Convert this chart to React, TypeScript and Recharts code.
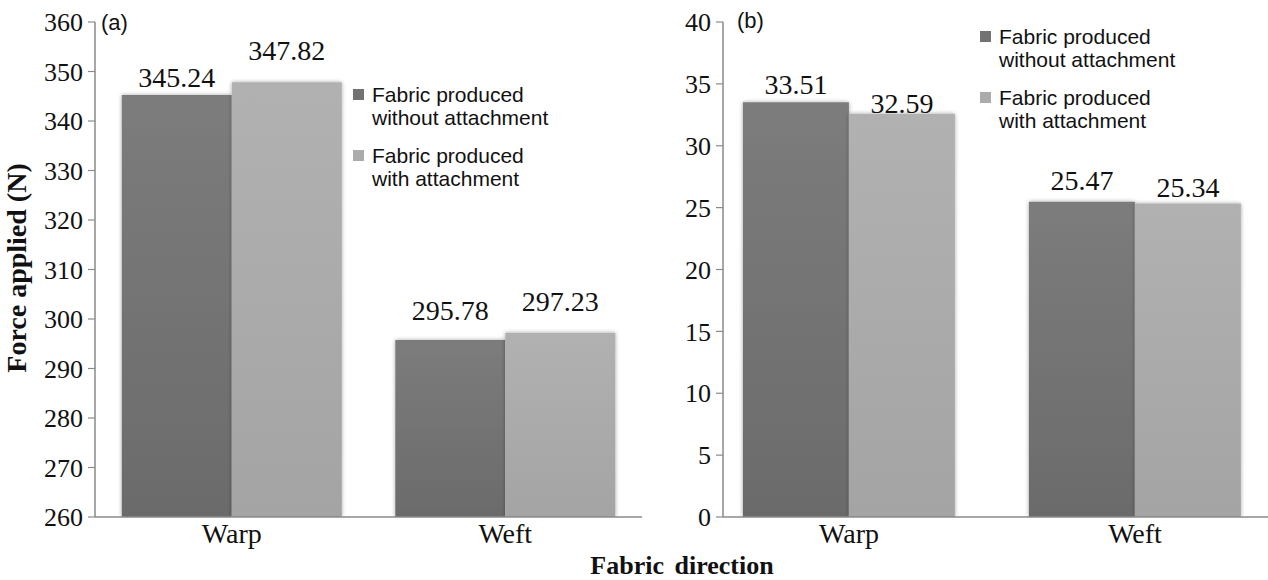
import React from 'react';
import { BarChart, Bar, XAxis, YAxis, Legend, LabelList } from 'recharts';

// ---------- data ----------
const categories = ['Warp', 'Weft'];
const seriesNames = ['Fabric produced without attachment', 'Fabric produced with attachment'];
const legendLines = [
  ['Fabric produced', 'without attachment'],
  ['Fabric produced', 'with attachment'],
];
const forceWithout = [345.24, 295.78];
const forceWith = [347.82, 297.23];
const rightWithout = [33.51, 25.47];
const rightWith = [32.59, 25.34];
const forceTicks = [260, 270, 280, 290, 300, 310, 320, 330, 340, 350, 360];
const rightTicks = [0, 5, 10, 15, 20, 25, 30, 35, 40];
const panelTags = ['(a)', '(b)'];
const yTitle = 'Force applied (N)';
const xTitle = 'Fabric direction';

// ---------- styling ----------
const SERIF = "'Liberation Serif', 'Times New Roman', serif";
const SANS = "'Liberation Sans', Arial, sans-serif";
const AXIS = '#8a8a8a';
const legendColors = ['#727272', '#ababab'];
const LABEL_FS = 28;
// vertical nudge (px) of each value label above its bar top, per series / category
const leftLift = [[18, 29], [32, 31]];
const rightLift = [[18, 21], [10, 16]];

const leftData = categories.map((c, i) => ({ cat: c, without: forceWithout[i], with: forceWith[i] }));
const rightData = categories.map((c, i) => ({ cat: c, without: rightWithout[i], with: rightWith[i] }));

const Defs = () => (
  <defs>
    <linearGradient id="gDark" x1="0" y1="0" x2="0" y2="1">
      <stop offset="0%" stopColor="#7c7c7c" />
      <stop offset="100%" stopColor="#6b6b6b" />
    </linearGradient>
    <linearGradient id="gLight" x1="0" y1="0" x2="0" y2="1">
      <stop offset="0%" stopColor="#b1b1b1" />
      <stop offset="100%" stopColor="#a4a4a4" />
    </linearGradient>
    <filter id="soft" x="-10%" y="-10%" width="120%" height="120%">
      <feGaussianBlur in="SourceAlpha" stdDeviation="2" />
      <feOffset dx="0" dy="0" result="b" />
      <feComponentTransfer><feFuncA type="linear" slope="0.35" /></feComponentTransfer>
      <feMerge><feMergeNode /><feMergeNode in="SourceGraphic" /></feMerge>
    </filter>
  </defs>
);

const makeLabel = (lifts: number[]) => (props: any) => {
  const vb = props.viewBox || props;
  const x = vb.x ?? props.x;
  const y = vb.y ?? props.y;
  const w = vb.width ?? props.width;
  const idx = props.index ?? 0;
  const lift = lifts[idx] ?? 18;
  return (
    <text x={x + w / 2} y={y - lift + LABEL_FS * 0.34} textAnchor="middle" fontFamily={SERIF} fontSize={LABEL_FS} fill="#111">
      {props.value}
    </text>
  );
};

const renderLegend = (props: any) => {
  const payload = props.payload || [];
  return (
    <div>
      {payload.map((p: any, i: number) => (
        <div key={i} style={{ display: 'flex', alignItems: 'flex-start', marginBottom: 15 }}>
          <div style={{ width: 11, height: 11, background: legendColors[i], marginTop: 6, marginRight: 8, flex: 'none' }} />
          <div style={{ fontFamily: SANS, fontSize: 21, lineHeight: '23px', color: '#111', whiteSpace: 'nowrap' }}>
            {(legendLines[i] || [p.value]).map((l, k) => (
              <div key={k}>{l}</div>
            ))}
          </div>
        </div>
      ))}
    </div>
  );
};

const yTickStyle = { fill: '#111', fontSize: 26, fontFamily: SERIF };
const xTickStyle = { fill: '#111', fontSize: 28, fontFamily: SERIF };

export default function App() {
  return (
    <div style={{ position: 'absolute', left: 0, top: 0, width: 1268, height: 580, background: '#fff', overflow: 'hidden' }}>
      {/* left panel */}
      <div style={{ position: 'absolute', left: 0, top: 0 }}>
        <BarChart width={660} height={580} data={leftData} margin={{ top: 22, right: 18, bottom: 0, left: 0 }} barCategoryGap="9.8%" barGap={0}>
          <Defs />
          <XAxis dataKey="cat" height={63} interval={0} tickLine={false} tickSize={0} tickMargin={6}
            axisLine={{ stroke: AXIS, strokeWidth: 1.5 }} tick={xTickStyle} />
          <YAxis type="number" width={95} domain={[260, 360]} ticks={forceTicks} interval={0} allowDataOverflow
            tickSize={7} tickMargin={5} axisLine={{ stroke: AXIS, strokeWidth: 1.5 }} tickLine={{ stroke: AXIS, strokeWidth: 1.2 }} tick={yTickStyle}
            label={{ content: () => (
              <text transform="translate(26,268) rotate(-90)" textAnchor="middle" fontFamily={SERIF} fontWeight="bold" fontSize={28} fill="#111">{yTitle}</text>
            ) }} />
          <Legend layout="vertical" align="center" verticalAlign="middle" content={renderLegend}
            wrapperStyle={{ position: 'absolute', left: 353, top: 83, width: 280 }} />
          <Bar dataKey="without" name={seriesNames[0]} fill="url(#gDark)" filter="url(#soft)" isAnimationActive={false}>
            <LabelList dataKey="without" content={makeLabel(leftLift[0])} />
          </Bar>
          <Bar dataKey="with" name={seriesNames[1]} fill="url(#gLight)" filter="url(#soft)" isAnimationActive={false}>
            <LabelList dataKey="with" content={makeLabel(leftLift[1])} />
          </Bar>
        </BarChart>
      </div>

      {/* right panel */}
      <div style={{ position: 'absolute', left: 640, top: 0 }}>
        <BarChart width={628} height={580} data={rightData} margin={{ top: 22, right: 0, bottom: 0, left: 0 }} barCategoryGap="12.9%" barGap={0}>
          <Defs />
          <XAxis dataKey="cat" height={63} interval={0} tickLine={false} tickSize={0} tickMargin={6} padding={{ left: -17, right: -10 }}
            axisLine={{ stroke: AXIS, strokeWidth: 1.5 }} tick={xTickStyle} />
          <YAxis type="number" width={83} domain={[0, 40]} ticks={rightTicks} interval={0} allowDataOverflow
            tickSize={7} tickMargin={5} axisLine={{ stroke: AXIS, strokeWidth: 1.5 }} tickLine={{ stroke: AXIS, strokeWidth: 1.2 }} tick={yTickStyle} />
          <Legend layout="vertical" align="center" verticalAlign="middle" content={renderLegend}
            wrapperStyle={{ position: 'absolute', left: 340, top: 25, width: 280 }} />
          <Bar dataKey="without" name={seriesNames[0]} fill="url(#gDark)" filter="url(#soft)" isAnimationActive={false}>
            <LabelList dataKey="without" content={makeLabel(rightLift[0])} />
          </Bar>
          <Bar dataKey="with" name={seriesNames[1]} fill="url(#gLight)" filter="url(#soft)" isAnimationActive={false}>
            <LabelList dataKey="with" content={makeLabel(rightLift[1])} />
          </Bar>
        </BarChart>
      </div>

      {/* panel tags */}
      <div style={{ position: 'absolute', left: 101, top: 11, fontFamily: SANS, fontSize: 22, lineHeight: '24px', color: '#111' }}>{panelTags[0]}</div>
      <div style={{ position: 'absolute', left: 737, top: 9, fontFamily: SANS, fontSize: 22, lineHeight: '24px', color: '#111' }}>{panelTags[1]}</div>

      {/* shared x title */}
      <div style={{ position: 'absolute', left: 482, width: 400, top: 551, textAlign: 'center', fontFamily: SERIF, fontWeight: 'bold', fontSize: 26, lineHeight: '30px', color: '#111', wordSpacing: 4 }}>{xTitle}</div>
    </div>
  );
}
